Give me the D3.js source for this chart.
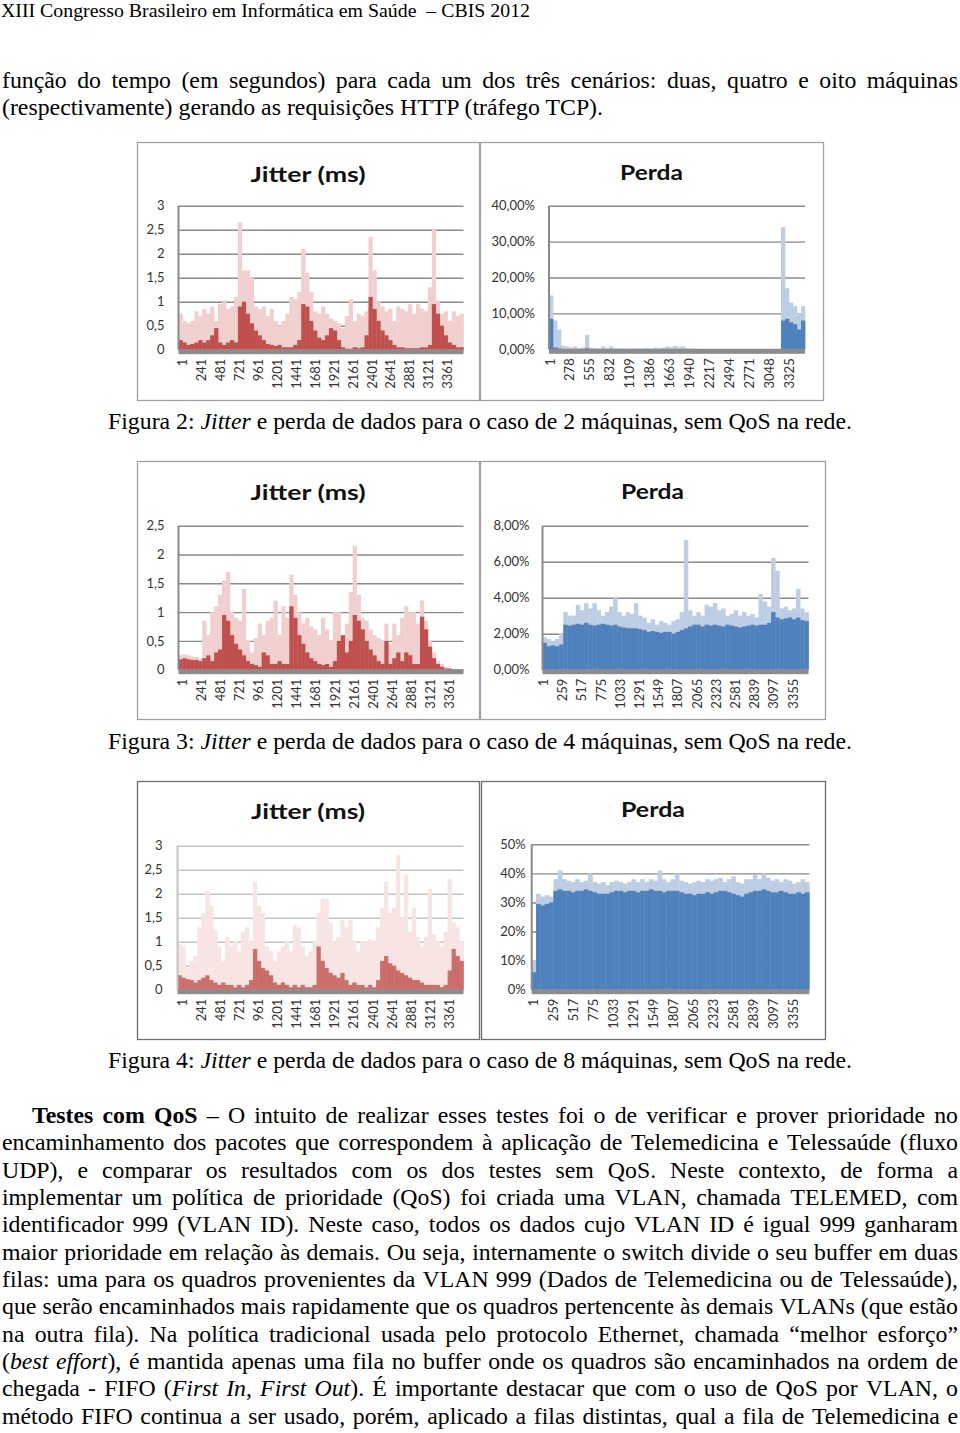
<!DOCTYPE html>
<html>
<head>
<meta charset="utf-8">
<script src="https://cdn.jsdelivr.net/npm/d3@7"></script>
<style>
  body { margin: 0; background: #fff; }
  svg { display: block; }
</style>
</head>
<body>
<div id="page"></div>
<script>
// ---- chart data (binned) ----
const jitterXLabels = [1, 241, 481, 721, 961, 1201, 1441, 1681, 1921, 2161, 2401, 2641, 2881, 3121, 3361]
const perdaXLabels2 = [1, 278, 555, 832, 1109, 1386, 1663, 1940, 2217, 2494, 2771, 3048, 3325]
const perdaXLabels34 = [1, 259, 517, 775, 1033, 1291, 1549, 1807, 2065, 2323, 2581, 2839, 3097, 3355]

const jitterTicks3 = [0, 0.5, 1, 1.5, 2, 2.5, 3]
const jitterTicks25 = [0, 0.5, 1, 1.5, 2, 2.5]
const fig2PerdaTicks = [0, 10, 20, 30, 40]
const fig3PerdaTicks = [0, 2, 4, 6, 8]
const fig4PerdaTicks = [0, 10, 20, 30, 40, 50]

// Figura 2 - 2 maquinas
const fig2JitterCore = [
  0.2, 0.15, 0.1, 0.12, 0.15, 0.2, 0.15, 0.2, 0.3, 0.45,
  0.15, 0.1, 0.15, 0.2, 0.15, 0.9, 1.0, 0.75, 0.55, 0.4,
  0.3, 0.2, 0.12, 0.1, 0.08, 0.1, 0.05, 0.05, 0.05, 0.1,
  0.2, 0.95, 0.9, 0.6, 0.4, 0.25, 0.2, 0.3, 0.45, 0.4,
  0.2, 0.05, 0.02, 0.02, 0.05, 0.03, 0.05, 0.3, 1.1, 0.85,
  0.6, 0.4, 0.3, 0.2, 0.1, 0.05, 0.05, 0.03, 0.03, 0.03,
  0.03, 0.05, 0.05, 0.1, 0.95, 0.75, 0.5, 0.3, 0.15, 0.1,
  0.05, 0.05]
const fig2JitterPeak = [
  0.75, 0.6, 0.55, 0.6, 0.8, 0.7, 0.85, 0.75, 0.9, 0.6,
  0.95, 1.0, 0.85, 0.9, 1.1, 2.65, 1.65, 1.65, 1.5, 0.9,
  0.85, 0.9, 0.7, 0.85, 0.6, 0.5, 0.6, 0.75, 1.1, 1.05,
  1.2, 2.1, 1.6, 1.2, 0.8, 0.75, 0.9, 0.75, 0.65, 0.6,
  0.55, 0.45, 0.7, 1.05, 0.6, 0.75, 0.7, 0.8, 2.35, 1.65,
  1.0, 0.9, 0.8, 0.85, 0.6, 0.9, 0.85, 0.8, 0.95, 0.75,
  0.95, 0.85, 0.8, 1.3, 2.5, 1.0, 0.75, 0.8, 0.6, 0.8,
  0.7, 0.75]
const fig2PerdaCore = [
  8.5, 0.5, 0.3, 0, 0, 0, 0, 0, 0, 0.3,
  0, 0, 0, 0, 0, 0, 0, 0, 0, 0,
  0, 0, 0, 0, 0, 0, 0, 0, 0, 0,
  0, 0, 0, 0, 0, 0, 0, 0, 0, 0,
  0, 0, 0, 0, 0, 0, 0, 0, 0, 0,
  0, 0, 0, 0, 0, 0, 0, 0,
  8, 8.5, 7.5, 7, 5.5, 8]
const fig2PerdaPeak = [
  15, 8, 5.5, 1, 0.8, 0.5, 0.8, 0.3, 0.5, 4,
  0.5, 0.3, 0.2, 0.8, 0.3, 0.8, 0.3, 0.2, 0.3, 0.2,
  0.2, 0.3, 0.2, 0.2, 0.3, 0.2, 0.5, 0.3, 0.5, 0.8,
  0.6, 0.9, 0.6, 0.8, 0.3, 0.2, 0.2, 0.1, 0.1, 0.1,
  0.1, 0.1, 0.1, 0.1, 0.1, 0.1, 0.1, 0.1, 0.1, 0.1,
  0.1, 0.1, 0.1, 0.1, 0.1, 0.1, 0.1, 0.1,
  34, 17, 13, 12, 10, 12]

// Figura 3 - 4 maquinas
const fig3JitterCore = [
  0.18, 0.2, 0.18, 0.17, 0.17, 0.15, 0.2, 0.25, 0.15, 0.3,
  0.35, 0.95, 0.85, 0.6, 0.45, 0.35, 0.25, 0.15, 0.1, 0.08,
  0.05, 0.3, 0.25, 0.1, 0.1, 0.15, 0.1, 0.1, 1.1, 0.9,
  0.6, 0.45, 0.3, 0.2, 0.15, 0.1, 0.08, 0.1, 0.05, 0.15,
  0.5, 0.6, 0.3, 0.5, 0.95, 0.85, 0.7, 0.5, 0.35, 0.25,
  0.15, 0.1, 0.5, 0.1, 0.2, 0.3, 0.15, 0.3, 0.25, 0.1,
  0.1, 0.92, 0.7, 0.4, 0.2, 0.1, 0.05, 0.02, 0.02, 0,
  0, 0]
const fig3JitterPeak = [
  0.25, 0.27, 0.25, 0.23, 0.22, 0.2, 0.85, 0.6, 1.0, 1.1,
  1.3, 1.55, 1.7, 1.0, 0.9, 0.85, 1.4, 0.5, 0.3, 0.55,
  0.8, 0.6, 0.85, 0.9, 1.2, 0.6, 1.1, 0.9, 1.65, 1.3,
  1.0, 0.8, 0.9, 0.75, 0.7, 0.6, 0.9, 0.7, 0.5, 1.0,
  1.0, 0.6, 0.8, 1.35, 2.15, 1.3, 0.9, 0.85, 0.7, 0.6,
  0.55, 0.5, 0.8, 0.45, 0.8, 0.6, 0.9, 1.1, 1.0, 1.0,
  0.8, 1.2, 0.85, 0.5, 0.3, 0.15, 0.1, 0.05, 0.03, 0,
  0, 0]
const fig3PerdaCore = [
  1.5, 1.3, 1.35, 1.3, 1.4, 2.5, 2.45, 2.5, 2.55, 2.5,
  2.6, 2.5, 2.45, 2.5, 2.55, 2.5, 2.45, 2.5, 2.4, 2.35,
  2.3, 2.3, 2.3, 2.25, 2.2, 2.1, 2.15, 2.1, 2.05, 2.1,
  2.1, 2.0, 2.1, 2.2, 2.3, 2.4, 2.5, 2.5, 2.4, 2.5,
  2.45, 2.5, 2.45, 2.4, 2.5, 2.45, 2.4, 2.35, 2.4, 2.45,
  2.5, 2.45, 2.5, 2.5, 2.6, 3.2, 2.9, 2.8, 2.85, 2.9,
  2.8, 2.9, 2.75, 2.7]
const fig3PerdaPeak = [
  1.8, 1.7, 1.6, 1.7, 2.0, 3.2, 3.0, 3.0, 3.6, 3.3,
  3.7, 3.4, 3.7, 3.3, 3.0, 3.2, 3.5, 4.0, 3.2, 3.0,
  3.2, 3.1, 3.7, 3.0, 2.9, 2.6, 2.8, 2.5, 2.7, 2.6,
  2.5, 2.7, 2.8, 3.2, 7.2, 3.3, 3.0, 3.2, 3.0, 3.6,
  3.5, 3.7, 3.3, 3.4, 3.0, 3.1, 3.3, 3.0, 3.2, 3.0,
  3.1, 2.9, 4.2, 3.8, 3.5, 6.2, 5.5, 3.4, 3.5, 3.3,
  3.4, 4.5, 3.4, 3.2]

// Figura 4 - 8 maquinas
const fig4JitterCore = [
  0.3, 0.25, 0.22, 0.2, 0.15, 0.2, 0.25, 0.3, 0.2, 0.15,
  0.1, 0.15, 0.1, 0.1, 0.05, 0.1, 0.05, 0.1, 0.2, 0.85,
  0.6, 0.45, 0.4, 0.3, 0.15, 0.1, 0.15, 0.1, 0.05, 0.1,
  0.05, 0.1, 0.05, 0.05, 0.1, 0.9, 0.6, 0.45, 0.35, 0.3,
  0.25, 0.35, 0.2, 0.1, 0.15, 0.1, 0.1, 0.05, 0.1, 0.05,
  0.2, 0.6, 0.7, 0.55, 0.5, 0.4, 0.35, 0.3, 0.25, 0.2,
  0.2, 0.15, 0.1, 0.1, 0.1, 0.1, 0.05, 0.1, 0.4, 0.85,
  0.7, 0.6]
const fig4JitterPeak = [
  0.95, 0.9, 0.45, 0.6, 0.7, 1.3, 1.6, 2.05, 1.75, 1.25,
  0.9, 0.6, 1.1, 0.9, 1.0, 0.8, 1.2, 1.3, 1.0, 2.25,
  1.75, 1.6, 0.9, 0.8, 0.6, 0.8, 0.9, 1.0, 0.8, 1.35,
  1.3, 0.9, 0.7, 0.8, 1.0, 1.6, 1.9, 1.9, 1.4, 1.0,
  1.1, 1.45, 1.3, 1.45, 1.0, 0.8, 1.0, 1.0, 1.05, 1.0,
  1.3, 1.7, 2.25, 1.6, 1.7, 2.8, 1.5, 2.4, 1.2, 1.7,
  1.1, 0.9, 1.1, 2.1, 1.15, 1.0, 0.9, 1.2, 2.3, 1.4,
  1.3, 1.0]
const fig4PerdaCore = [
  6, 29.5, 29, 29.5, 30, 34, 34.5, 34, 34, 33.5,
  34, 34, 34.5, 34, 33.5, 33, 33, 33, 33.5, 34,
  34, 33.5, 34, 34, 33.5, 34, 34, 34.5, 34, 34,
  33.5, 34, 34, 34, 33.5, 33, 33, 32.5, 33, 33,
  33.5, 33, 33.5, 34, 34, 33.5, 33, 32.5, 32, 33,
  33.5, 34, 34, 34.5, 34, 33.5, 33.5, 34, 33.5, 33,
  33, 33.5, 33, 33.5]
const fig4PerdaPeak = [
  10, 33, 32, 32.5, 32, 38, 41, 38, 37.5, 37,
  38, 37, 37.5, 40, 37, 36.5, 37, 36, 37, 37.5,
  37, 36.5, 37, 38, 37, 38, 37, 38, 37.5, 41,
  38, 37, 38, 40, 37.5, 37, 36.5, 37, 37.5, 37,
  38, 37.5, 38, 38.5, 37, 38, 39, 37, 36.5, 38,
  38, 39.5, 38, 40, 38.5, 37.5, 38, 37, 38, 37.5,
  36.5, 37, 38, 37]

// ---- page text ----
const headerText = "XIII Congresso Brasileiro em Informática em Saúde  – CBIS 2012"
const introLines = [
  "função do tempo (em segundos) para cada um dos três cenários: duas, quatro e oito máquinas",
  "(respectivamente) gerando as requisições HTTP (tráfego TCP)."
]
const captions = [
  "Figura 2: _Jitter_ e perda de dados para o caso de 2 máquinas, sem QoS na rede.",
  "Figura 3: _Jitter_ e perda de dados para o caso de 4 máquinas, sem QoS na rede.",
  "Figura 4: _Jitter_ e perda de dados para o caso de 8 máquinas, sem QoS na rede."
]
const paraLines = [
  "*Testes com QoS* – O intuito de realizar esses testes foi o de verificar e prover prioridade no",
  "encaminhamento dos pacotes que correspondem à aplicação de Telemedicina e Telessaúde (fluxo",
  "UDP), e comparar os resultados com os dos testes sem QoS. Neste contexto, de forma a",
  "implementar um política de prioridade (QoS) foi criada uma VLAN, chamada TELEMED, com",
  "identificador 999 (VLAN ID). Neste caso, todos os dados cujo VLAN ID é igual 999 ganharam",
  "maior prioridade em relação às demais. Ou seja, internamente o switch divide o seu buffer em duas",
  "filas: uma para os quadros provenientes da VLAN 999 (Dados de Telemedicina ou de Telessaúde),",
  "que serão encaminhados mais rapidamente que os quadros pertencente às demais VLANs (que estão",
  "na outra fila). Na política tradicional usada pelo protocolo Ethernet, chamada “melhor esforço”",
  "(_best effort_), é mantida apenas uma fila no buffer onde os quadros são encaminhados na ordem de",
  "chegada - FIFO (_First In_, _First Out_). É importante destacar que com o uso de QoS por VLAN, o",
  "método FIFO continua a ser usado, porém, aplicado a filas distintas, qual a fila de Telemedicina e"
]

const serif = "'Liberation Serif', 'Times New Roman', serif"
const sans = "Lato, 'Open Sans', sans-serif"

const svg = d3.select("#page").append("svg")
    .attr("width", 960)
    .attr("height", 1433)

// parse "_" (italic) and "*" (bold) markers into words made of styled runs
function parseWords(str) {
    const words = []
    let cur = [], buf = "", it = false, bd = false
    const flush = function() { if (buf) { cur.push({t: buf, it: it, bd: bd}); buf = "" } }
    for (const ch of str) {
        if (ch === "_") { flush(); it = !it }
        else if (ch === "*") { flush(); bd = !bd }
        else if (ch === " ") { flush(); if (cur.length) words.push(cur); cur = [] }
        else buf += ch
    }
    flush()
    if (cur.length) words.push(cur)
    return words
}

function addRuns(text, runs) {
    runs.forEach(function(r) {
        text.append("tspan")
            .text(r.t)
            .style("font-style", r.it ? "italic" : "normal")
            .style("font-weight", r.bd ? "bold" : "normal")
    })
}

// one line squeezed to a given width (not justified)
function fitLine(str, x, y, w, size) {
    const words = parseWords(str)
    const t = svg.append("text")
        .attr("x", x).attr("y", y)
        .style("font-family", serif)
        .style("font-size", size + "px")
        .attr("fill", "#000")
        .attr("textLength", w)
        .attr("lengthAdjust", "spacingAndGlyphs")
    words.forEach(function(wd, i) {
        addRuns(t, (i < words.length - 1) ? wd.concat([{t: " ", it: false, bd: false}]) : wd)
    })
    return t
}

// measure a plain string at the body size
function measure(str, size) {
    const t = svg.append("text").style("font-family", serif).style("font-size", size + "px")
    addRuns(t, [{t: str, it: false, bd: false}])
    const w = t.node().getComputedTextLength()
    t.remove()
    return w
}

const bodySize = 23
// glyphs of the scan are a bit condensed: take the scale from an unjustified line
const squeeze = 601 / measure(introLines[1], bodySize)

function justifyLine(str, x, y, w, size) {
    const words = parseWords(str)
    const g = svg.append("g").attr("transform", `translate(${x},${y}) scale(${squeeze},1)`)
    const items = words.map(function(wd) {
        const t = g.append("text")
            .style("font-family", serif)
            .style("font-size", size + "px")
            .attr("fill", "#000")
        addRuns(t, wd)
        return {t: t, w: t.node().getComputedTextLength()}
    })
    const total = d3.sum(items, d => d.w)
    const gap = (w / squeeze - total) / (items.length - 1)
    let cx = 0
    items.forEach(function(it) {
        it.t.attr("x", cx)
        cx += it.w + gap
    })
}

// header
svg.append("text")
    .attr("x", 1).attr("y", 17)
    .style("font-family", serif)
    .style("font-size", "19px")
    .style("white-space", "pre")
    .attr("textLength", 529)
    .attr("lengthAdjust", "spacingAndGlyphs")
    .text(headerText)

justifyLine(introLines[0], 2, 88, 956, bodySize)
fitLine(introLines[1], 2, 115, 601, bodySize)

const captionY = [429, 749, 1068]
captions.forEach(function(c, i) { fitLine(c, 108, captionY[i], 744, bodySize) })

const paraY = [1123, 1150, 1178, 1205, 1232, 1260, 1287, 1314, 1342, 1369, 1396, 1424]
paraLines.forEach(function(l, i) {
    const x0 = i === 0 ? 32 : 2
    justifyLine(l, x0, paraY[i], 958 - x0, bodySize)
})

// ---- charts ----
const fmtDec = d => String(d).replace(".", ",")
const fmtPct2 = d => d.toFixed(2).replace(".", ",") + "%"
const fmtPct0 = d => d + "%"

const panels = [
    {box: [137, 142, 479, 400], title: "Jitter (ms)", titleW: 115, titleY: 182, kind: "jitter",
     core: fig2JitterCore, peak: fig2JitterPeak, n: 3612, yMax: 3, yTicks: jitterTicks3,
     x0: 178.5, x1: 463.5, yTop: 205.7, yZero: 349.7, pad: 14, xLabels: jitterXLabels, shift: 3.4, fmt: fmtDec},
    {box: [480, 142, 823, 400], title: "Perda", titleW: 63, titleY: 180, kind: "perda",
     core: fig2PerdaCore, peak: fig2PerdaPeak, n: 3560, yMax: 40, yTicks: fig2PerdaTicks,
     x0: 549, x1: 805, yTop: 205.7, yZero: 349.3, pad: 14, xLabels: perdaXLabels2, shift: 0.3, fmt: fmtPct2},
    {box: [137, 461, 479, 719], title: "Jitter (ms)", titleW: 115, titleY: 500, kind: "jitter",
     core: fig3JitterCore, peak: fig3JitterPeak, n: 3592, yMax: 2.5, yTicks: jitterTicks25,
     x0: 178.5, x1: 463.5, yTop: 525.7, yZero: 669.7, pad: 14, xLabels: jitterXLabels, shift: 3.4, fmt: fmtDec},
    {box: [480, 461, 825, 719], title: "Perda", titleW: 63, titleY: 499, kind: "perda",
     core: fig3PerdaCore, peak: fig3PerdaPeak, n: 3574, yMax: 8, yTicks: fig3PerdaTicks,
     x0: 542.5, x1: 808.5, yTop: 525.7, yZero: 669.7, pad: 13, xLabels: perdaXLabels34, shift: 0.3, fmt: fmtPct2},
    {box: [137, 781, 479, 1039], title: "Jitter (ms)", titleW: 114, titleY: 819, kind: "jitter",
     core: fig4JitterCore, peak: fig4JitterPeak, n: 3604, yMax: 3, yTicks: jitterTicks3,
     x0: 177.5, x1: 463.5, yTop: 845.7, yZero: 989.7, pad: 15, xLabels: jitterXLabels, shift: 4.3, fmt: fmtDec, light: true},
    {box: [481, 781, 825, 1039], title: "Perda", titleW: 64, titleY: 817, kind: "perda",
     core: fig4PerdaCore, peak: fig4PerdaPeak, n: 3573, yMax: 50, yTicks: fig4PerdaTicks,
     x0: 531.7, x1: 809.3, yTop: 844.3, yZero: 989.7, pad: 6, xLabels: perdaXLabels34, shift: 0.9, fmt: fmtPct0}
]

function drawChart(p) {
    const g = svg.append("g")
    const gridColor = p.light ? "#c4c4c4" : "#8a8a8a"
    const coreColor = p.kind === "jitter" ? "#c0504d" : "#4f81bd"
    const peakColor = p.kind === "jitter" ? (p.light ? "#f7e4e3" : "#f1cfce") : "#bccde4"

    // frame
    g.append("rect")
        .attr("x", p.box[0] + 0.5).attr("y", p.box[1] + 0.5)
        .attr("width", p.box[2] - p.box[0]).attr("height", p.box[3] - p.box[1])
        .attr("fill", "#fff")
        .attr("stroke", p.box[1] > 700 ? "#6e6e6e" : "#a0a0a0")
        .attr("stroke-width", 1.3)

    // title
    g.append("text")
        .attr("x", (p.box[0] + p.box[2]) / 2 - p.titleW / 2)
        .attr("y", p.titleY)
        .style("font-family", sans)
        .style("font-weight", "bold")
        .style("font-size", "21px")
        .attr("fill", "#111")
        .attr("textLength", p.titleW)
        .attr("lengthAdjust", "spacingAndGlyphs")
        .text(p.title)

    const y = d3.scaleLinear().domain([0, p.yMax]).range([p.yZero, p.yTop])
    const x = d3.scaleLinear().domain([0, p.n]).range([p.x0, p.x1])
    const bins = d3.scaleBand().domain(d3.range(p.core.length)).range([p.x0, p.x1]).padding(0)

    // gridlines + y labels
    const yAxis = g.append("g")
        .attr("transform", `translate(${p.x0},0)`)
        .call(d3.axisLeft(y).tickValues(p.yTicks).tickFormat(p.fmt)
            .tickSize(-(p.x1 - p.x0)).tickPadding(p.pad))
    yAxis.select(".domain").remove()
    yAxis.selectAll("line").attr("stroke", gridColor).attr("stroke-width", 1.4)
    yAxis.selectAll("text")
        .style("font-family", sans)
        .style("font-size", "13px")
        .attr("fill", "#333")

    // bars: faint spikes then the dense core
    g.append("g").selectAll("rect")
        .data(p.peak)
        .join("rect")
            .attr("x", (d, i) => bins(i))
            .attr("width", bins.bandwidth() + 0.3)
            .attr("y", d => y(d))
            .attr("height", d => p.yZero - y(d))
            .attr("fill", peakColor)
    g.append("g").selectAll("rect")
        .data(p.core)
        .join("rect")
            .attr("x", (d, i) => bins(i))
            .attr("width", bins.bandwidth() + 0.3)
            .attr("y", d => y(d))
            .attr("height", d => p.yZero - y(d))
            .attr("fill", coreColor)
            .attr("opacity", p.light ? 0.8 : 1)

    // vertical axis line
    g.append("line")
        .attr("x1", p.x0).attr("x2", p.x0)
        .attr("y1", p.yTop).attr("y2", p.yZero)
        .attr("stroke", gridColor).attr("stroke-width", 2)

    // thick grey floor
    g.append("rect")
        .attr("x", p.x0).attr("y", p.yZero - 0.5)
        .attr("width", p.x1 - p.x0).attr("height", 5)
        .attr("fill", "#8c8c8c")

    // rotated category labels
    const xAxis = g.append("g")
        .attr("transform", `translate(${p.shift},${p.yZero})`)
        .call(d3.axisBottom(x).tickValues(p.xLabels).tickSize(0).tickFormat(d3.format("d")))
    xAxis.select(".domain").remove()
    xAxis.selectAll("text")
        .attr("y", 0)
        .attr("x", -9)
        .attr("dy", "0.36em")
        .attr("transform", "rotate(-90)")
        .style("text-anchor", "end")
        .style("font-family", sans)
        .style("font-size", "13px")
        .attr("fill", "#333")
}

panels.forEach(drawChart)
</script>
</body>
</html>
